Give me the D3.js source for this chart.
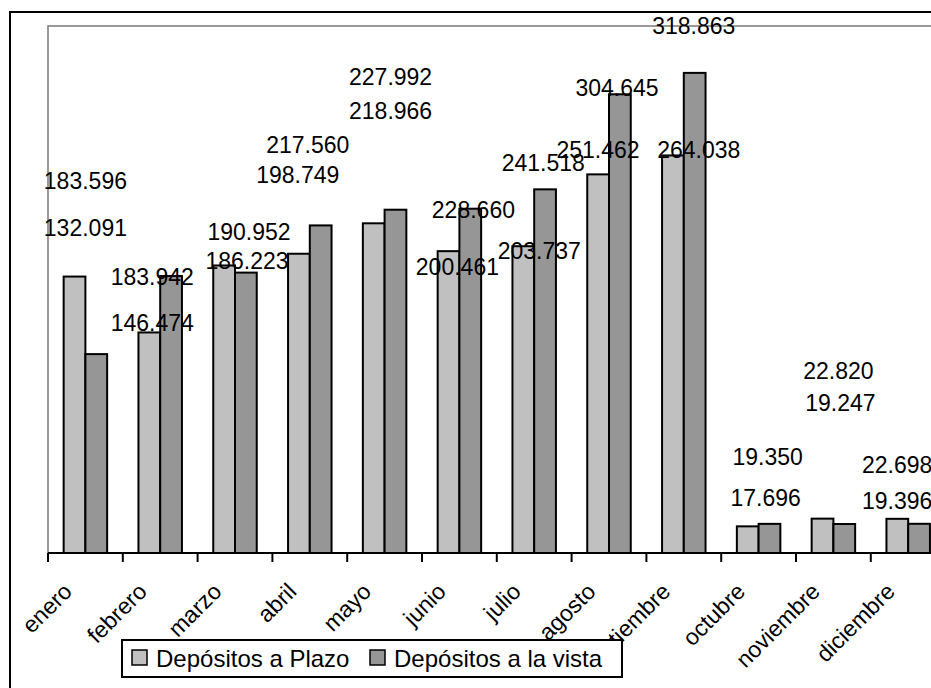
<!DOCTYPE html>
<html>
<head>
<meta charset="utf-8">
<script src="https://cdn.jsdelivr.net/npm/d3@7"></script>
<style>
  body { margin: 0; background: #fff; }
  text { font-family: "Liberation Sans", Arial, sans-serif; fill: #000; }
</style>
</head>
<body>
<svg id="chart" width="931" height="688"></svg>
<script>
// ---- data ----
const months = ["enero","febrero","marzo","abril","mayo","junio","julio","agosto","septiembre","octubre","noviembre","diciembre"];
const seriesNames = ["Depósitos a Plazo","Depósitos a la vista"];
const plazo = [183.596,146.474,190.952,198.749,218.966,200.461,203.737,251.462,264.038,17.696,22.820,22.698];
const vista = [132.091,183.942,186.223,217.560,227.992,228.660,241.518,304.645,318.863,19.350,19.247,19.396];
const valueLabelsPlazo = ["183.596","146.474","190.952","198.749","218.966","200.461","203.737","251.462","264.038","17.696","22.820","22.698"];
const valueLabelsVista = ["132.091","183.942","186.223","217.560","227.992","228.660","241.518","304.645","318.863","19.350","19.247","19.396"];
const yMax = 350;

// label placement (as in the original, labels are displaced): x shift from category centre (px), y level in axis units
const plazoLabelDx = [0,-8,14,-12,6,-2,5,-11,15,7,5,-11];
const plazoLabelAt = [247.0,152.7,213.2,251.0,293.9,190.2,200.5,268.0,268.0,36.5,120.9,58.5];
const vistaLabelDx = [0,-8,12,-2,6,14,9,8,10,9,7,-11];
const vistaLabelAt = [215.8,183.3,193.9,271.0,316.5,228.0,259.0,309.2,350.5,63.8,99.6,34.5];

const colors = ["#C0C0C0", "#969696"];

(function () {
const svg = d3.select("#chart");
const pLeft = 48, pTop = 26, pBottom = 553;
const step = 74.8;
const pRight = pLeft + step * months.length;

const x = d3.scaleBand().domain(months).range([pLeft, pRight]).padding(0);
const x1 = d3.scaleBand().domain(seriesNames).range([0, x.bandwidth()]).paddingInner(0).paddingOuter(0.72);
const y = d3.scaleLinear().domain([0, yMax]).range([pBottom, pTop]);

// outer chart border
svg.append("rect").attr("x", 10).attr("y", 12).attr("width", 940).attr("height", 700)
  .attr("fill", "#fff").attr("stroke", "#000").attr("stroke-width", 2);

// plot area border
svg.append("rect").attr("x", pLeft).attr("y", pTop).attr("width", pRight - pLeft).attr("height", pBottom - pTop)
  .attr("fill", "none").attr("stroke", "#808080").attr("stroke-width", 1.6);

// bars
const data = months.map((m, i) => ({ m, vals: [plazo[i], vista[i]] }));
const g = svg.append("g");
data.forEach(d => {
  d.vals.forEach((v, j) => {
    g.append("rect")
      .attr("x", x(d.m) + x1(seriesNames[j]))
      .attr("y", y(v))
      .attr("width", x1.bandwidth())
      .attr("height", y(0) - y(v))
      .attr("fill", colors[j])
      .attr("stroke", "#000")
      .attr("stroke-width", 2);
  });
});

// x axis
svg.append("line").attr("x1", pLeft).attr("x2", pRight).attr("y1", pBottom).attr("y2", pBottom)
  .attr("stroke", "#000").attr("stroke-width", 2.2);
months.forEach((m) => {
  svg.append("line").attr("x1", x(m)).attr("x2", x(m)).attr("y1", pBottom).attr("y2", pBottom + 9)
    .attr("stroke", "#000").attr("stroke-width", 2);
});
svg.selectAll("text.xlab").data(months).enter().append("text")
  .attr("class", "xlab")
  .attr("text-anchor", "end")
  .attr("font-size", 23)
  .attr("transform", m => `translate(${x(m) + x.bandwidth() / 2 - 12},${pBottom + 40}) rotate(-45)`)
  .text(m => m);

// value labels
const cx = m => x(m) + x.bandwidth() / 2;
months.forEach((m, i) => {
  svg.append("text").attr("text-anchor", "middle").attr("font-size", 23)
    .attr("x", cx(m) + plazoLabelDx[i]).attr("y", y(plazoLabelAt[i])).attr("dy", "0.36em")
    .text(valueLabelsPlazo[i]);
  svg.append("text").attr("text-anchor", "middle").attr("font-size", 23)
    .attr("x", cx(m) + vistaLabelDx[i]).attr("y", y(vistaLabelAt[i])).attr("dy", "0.36em")
    .text(valueLabelsVista[i]);
});

// legend
const lg = svg.append("g");
lg.append("rect").attr("x", 122).attr("y", 640).attr("width", 500).attr("height", 37)
  .attr("fill", "#fff").attr("stroke", "#000").attr("stroke-width", 2);
const legX = [132, 370];
seriesNames.forEach((s, j) => {
  lg.append("rect").attr("x", legX[j]).attr("y", 650).attr("width", 15).attr("height", 15)
    .attr("fill", colors[j]).attr("stroke", "#000").attr("stroke-width", 1.5);
  lg.append("text").attr("x", legX[j] + 24).attr("y", 667).attr("font-size", 24).text(s);
});
})();
</script>
</body>
</html>
